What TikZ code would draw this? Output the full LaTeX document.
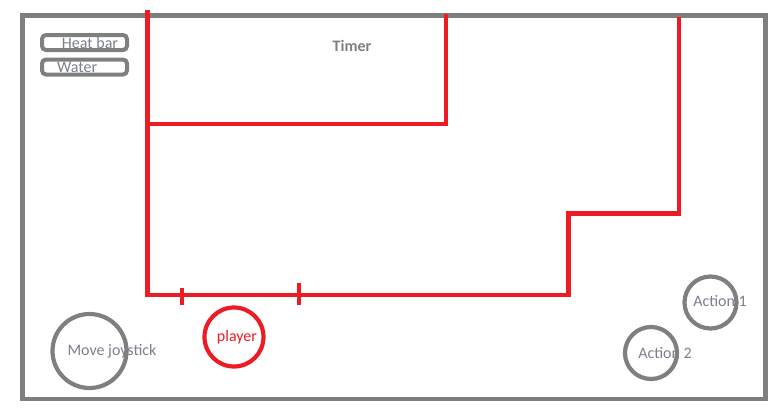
\documentclass[tikz,border=0pt]{standalone}
\usepackage{fontspec}
\setmainfont{Carlito}
\definecolor{paintred}{RGB}{237,28,36}
\definecolor{paintgray}{RGB}{127,127,127}
\definecolor{labelgray}{RGB}{122,128,140}
\tikzset{
	wall/.style={paintred, line width=4.6pt},
	frame/.style={paintgray, line width=4.6pt},
	bar/.style={draw=paintgray, line width=4pt, rounded corners=4pt, minimum width=85pt, minimum height=15pt, inner sep=0pt},
	button/.style={draw=paintgray, circle, line width=4.2pt, inner sep=0pt},
	lbl/.style={labelgray, font=\fontsize{16}{18}\selectfont, inner sep=0pt}
}
\begin{document}
\begin{tikzpicture}[x=1pt, y=-1pt]
	\useasboundingbox (0, 0) rectangle (780, 410);
	\draw[frame] (22.5, 15.5) rectangle (765.5, 399);

	\node[bar] (heatbar) at (84.5, 42.5) {};
	\node[bar] (water) at (84.5, 67) {};
	\node[lbl] (heatlbl) at (90, 43) {Heat bar};
	\node[lbl, anchor=west] (waterlbl) at (57, 67) {Water};
	\node[lbl, font=\fontsize{16}{18}\selectfont\bfseries, text=paintgray] (timer) at (352, 46) {Timer};

	% walls
	\draw[wall] (147.5, 10) -- (147.5, 295);
	\draw[wall] (147.5, 124) -- (446, 124) -- (446, 14);
	\draw[wall] (145, 295) -- (568.5, 295) -- (568.5, 213.3) -- (679, 213.3) -- (679, 17);
	\draw[wall] (182, 288) -- (182, 305);
	\draw[wall] (299, 283) -- (299, 305);

	\node[button, minimum size=74pt] (joystick) at (89.5, 351) {};
	\node[lbl] (joylbl) at (112, 351) {Move joystick};
	\node[button, draw=paintred, minimum size=59pt] (player) at (234, 337) {};
	\node[lbl, text=paintred] (playerlbl) at (237, 337) {player};
	\node[button, minimum size=52pt] (action1) at (710.5, 302.5) {};
	\node[lbl] (act1lbl) at (720, 301) {Action 1};
	\node[button, minimum size=52pt] (action2) at (651, 353) {};
	\node[lbl] (act2lbl) at (665, 353) {Action 2};
\end{tikzpicture}
\end{document}
